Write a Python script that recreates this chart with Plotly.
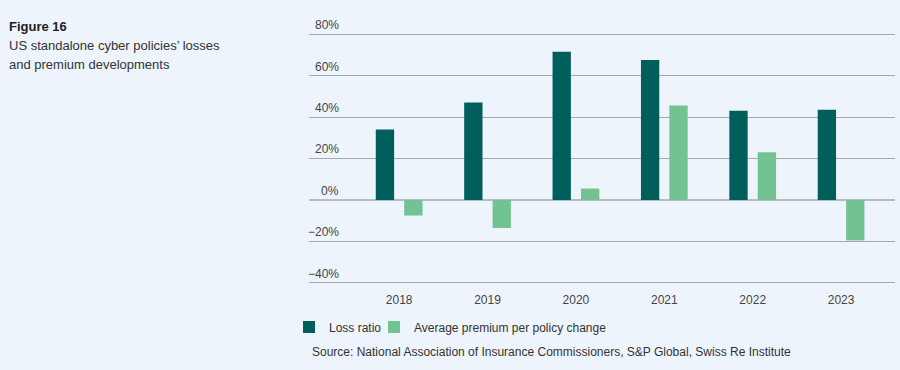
import plotly.graph_objects as go

years = ["2018", "2019", "2020", "2021", "2022", "2023"]
loss_ratio = [34, 47, 71.5, 67.5, 43, 43.5]
avg_premium_change = [-7.5, -13.5, 5.5, 45.5, 23, -19.5]
y_tick_vals = [-40, -20, 0, 20, 40, 60, 80]
y_tick_text = ["−40%", "−20%", "0%", "20%", "40%", "60%", "80%"]

DARK = "#005F5B"
LIGHT = "#73C392"
BG = "#EEF4FB"
FONT = "Liberation Sans, Arial, sans-serif"

W, H = 900, 370
ML, MR, MT, MB = 309, 5, 33, 85
PW = W - ML - MR
PH = H - MT - MB

def px_x(p):
    return (p - ML) / PW

def px_y(p):
    return (H - MB - p) / PH

fig = go.Figure()
fig.add_trace(go.Bar(x=years, y=loss_ratio, name="Loss ratio", legend="legend",
                     marker=dict(color=DARK, line=dict(width=0))))
fig.add_trace(go.Bar(x=years, y=avg_premium_change, name="Average premium per policy change",
                     legend="legend2", marker=dict(color=LIGHT, line=dict(width=0))))

annotations = []
for v, t in zip(y_tick_vals, y_tick_text):
    annotations.append(dict(x=px_x(341), xref="paper", xanchor="right",
                            y=v, yref="y", yanchor="middle", yshift=9,
                            text=t, showarrow=False,
                            font=dict(family=FONT, size=12, color="#444")))

annotations += [
    dict(x=px_x(7), y=px_y(26), xref="paper", yref="paper", xanchor="left", yanchor="middle",
         text="<b>Figure 16</b>", showarrow=False,
         font=dict(family=FONT, size=13, color="#222")),
    dict(x=px_x(7), y=px_y(45), xref="paper", yref="paper", xanchor="left", yanchor="middle",
         text="US standalone cyber policies’ losses", showarrow=False,
         font=dict(family=FONT, size=13, color="#333")),
    dict(x=px_x(7), y=px_y(64), xref="paper", yref="paper", xanchor="left", yanchor="middle",
         text="and premium developments", showarrow=False,
         font=dict(family=FONT, size=13, color="#333")),
    dict(x=px_x(310), y=px_y(352), xref="paper", yref="paper", xanchor="left", yanchor="middle",
         text="Source: National Association of Insurance Commissioners, S&P Global, Swiss Re Institute",
         showarrow=False, font=dict(family=FONT, size=12, color="#333")),
]

legend_common = dict(orientation="h", xanchor="left", y=px_y(327), yanchor="middle",
                     bgcolor="rgba(0,0,0,0)", font=dict(family=FONT, size=12, color="#333"),
                     itemwidth=30)

fig.update_layout(
    width=W, height=H,
    margin=dict(l=ML, r=MR, t=MT, b=MB, pad=0),
    paper_bgcolor=BG, plot_bgcolor=BG,
    barmode="group", bargap=0.357, bargroupgap=0.355,
    font=dict(family=FONT, size=12, color="#333"),
    showlegend=True,
    legend=dict(x=px_x(289), **legend_common),
    legend2=dict(x=px_x(374), **legend_common),
    annotations=annotations,
    xaxis=dict(type="category", range=[-1.02, 5.61], showgrid=False, zeroline=False,
               showline=False, ticks="", ticklabelstandoff=6,
               tickfont=dict(family=FONT, size=12, color="#444"), fixedrange=True),
    yaxis=dict(range=[-41, 80.5], tickvals=y_tick_vals, showticklabels=False,
               showgrid=True, gridcolor="#A3A8AD", gridwidth=1,
               zeroline=True, zerolinecolor="#B8BDC2", zerolinewidth=1.5,
               showline=False, ticks="", fixedrange=True),
)

fig.write_html("out.html", config={"displayModeBar": False},
               post_script="document.body.style.margin='0';document.body.style.background='#EEF4FB';")
